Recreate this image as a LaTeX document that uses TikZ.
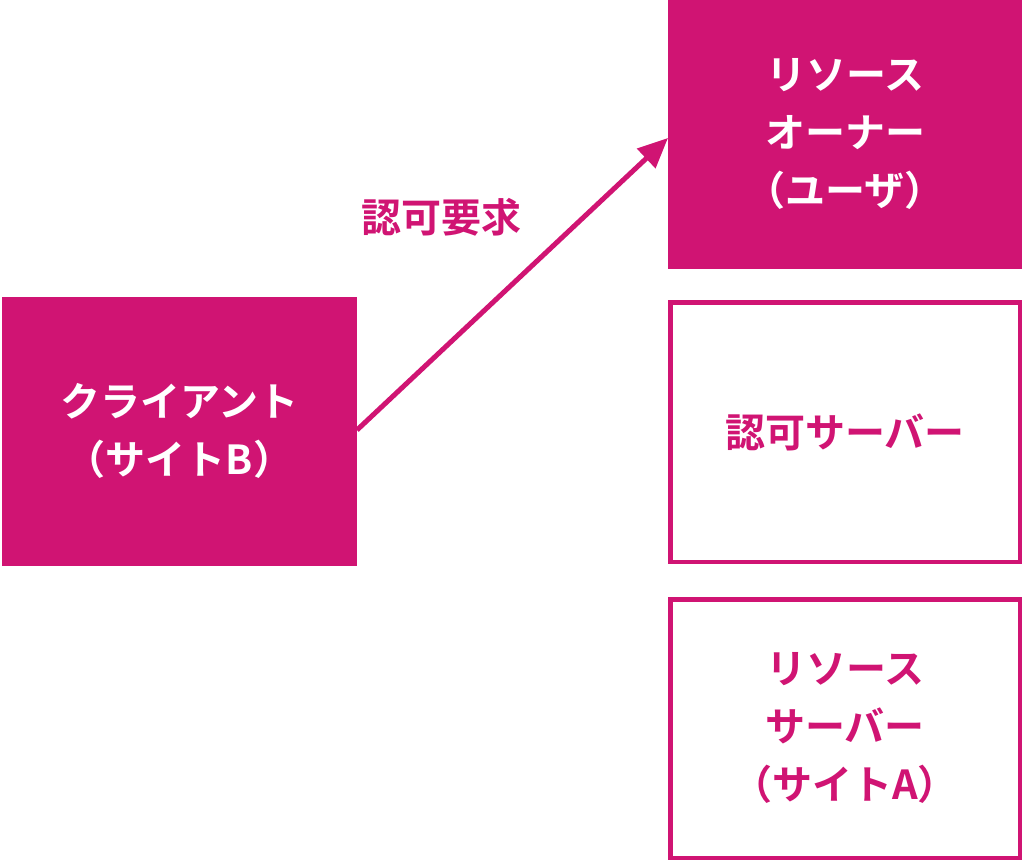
\documentclass[tikz,border=0pt]{standalone}
\usepackage{fontspec}
\usetikzlibrary{arrows.meta}
\newfontfamily\cjk{Noto Sans CJK JP Bold}
\definecolor{mg}{HTML}{D01473}
\begin{document}
\begin{tikzpicture}[x=1pt,y=-1pt,
  txt/.style={font=\cjk\fontsize{40}{58}\selectfont,align=center}]
\useasboundingbox (0,0) rectangle (1024,864);
\fill[mg] (2,297) rectangle (357,566);
\node[txt,text=white] (client) at (179.5,431) {クライアント\\（サイトB）};
\fill[mg] (668,0) rectangle (1022,269);
\node[txt,text=white] (owner) at (845,134) {リソース\\オーナー\\（ユーザ）};
\draw[mg,line width=4.5pt] (670.25,302.25) rectangle (1019.75,561.75);
\node[txt,text=mg] (auth) at (845,432) {認可サーバー};
\draw[mg,line width=4.5pt] (670.25,599.25) rectangle (1019.75,857.75);
\node[txt,text=mg] (rs) at (845,728) {リソース\\サーバー\\（サイトA）};
\coordinate (a) at (357,430);
\coordinate (b) at (668,138);
\draw[mg,line width=5pt,-{Triangle[length=30pt,width=26pt]}] (a) -- (b);
\node[txt,text=mg] (lbl) at (441,217) {認可要求};
\end{tikzpicture}
\end{document}
